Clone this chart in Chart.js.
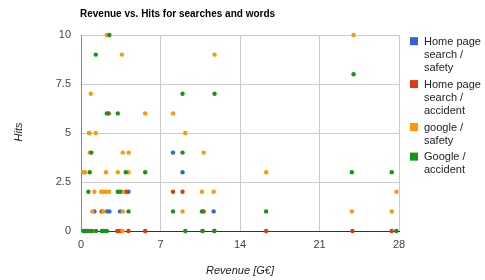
<!DOCTYPE html>
<html>
<head>
<meta charset="utf-8">
<script src="https://cdn.jsdelivr.net/npm/chart.js@4"></script>
<style>
  body { margin: 0; background: #fff; }
  #chart { display: block; }
</style>
</head>
<body>
<canvas id="chart" width="485" height="280"></canvas>
<script>
const titleText = 'Revenue vs. Hits for searches and words';
const xTitle = 'Revenue [G\u20ac]';
const yTitle = 'Hits';

const seriesLabels = ['Home page search / safety', 'Home page search / accident', 'google / safety', 'Google / accident'];
const seriesColors = ['#3366cc', '#dc3912', '#ff9900', '#109618'];

// [revenue, hits]
const homeSafety = [
  [0.73, 5], [8.1, 4], [8.94, 3], [4.18, 2], [1.18, 1], [2.3, 1], [2.5, 1], [3.44, 1], [11.68, 1]
];
const homeAccident = [
  [2.44, 6], [3.97, 2], [8.1, 2], [8.94, 2], [1.82, 1], [10.8, 1],
  [0.73, 0], [3.2, 0], [3.44, 0], [4.18, 0], [5.65, 0], [10.7, 0], [11.74, 0], [16.3, 0], [23.9, 0], [27.36, 0]
];
const googleSafety = [
  [2.27, 10], [24, 10], [3.6, 9], [11.76, 9], [0.86, 7], [5.65, 6], [8.1, 6],
  [0.73, 5], [1.3, 5], [9.18, 5], [0.77, 4], [3.68, 4], [4.2, 4], [10.8, 4],
  [0.2, 3], [0.35, 3], [2.2, 3], [3.24, 3], [4.18, 3], [16.3, 3],
  [1.18, 2], [1.77, 2], [1.97, 2], [2.2, 2], [2.47, 2], [3.68, 2], [10.65, 2], [11.68, 2], [27.77, 2],
  [1.0, 1], [1.97, 1], [3.68, 1], [8.94, 1], [23.85, 1], [27.36, 1],
  [1.09, 0], [3.65, 0]
];
const googleAccident = [
  [2.5, 10], [1.3, 9], [24, 8], [8.94, 7], [11.76, 7], [2.27, 6], [3.24, 6],
  [0.91, 4], [8.94, 4], [0.77, 3], [3.94, 3], [5.65, 3], [23.85, 3], [27.36, 3],
  [0.65, 2], [3.24, 2], [3.44, 2], [4.18, 1], [8.1, 1], [10.65, 1], [16.3, 1],
  [0.2, 0], [0.35, 0], [0.5, 0], [0.94, 0], [1.32, 0], [1.83, 0], [2.0, 0], [2.27, 0],
  [9.18, 0], [10.7, 0], [11.74, 0], [27.77, 0]
];

const xTicks = [0, 7, 14, 21, 28];
const yTicks = [0, 2.5, 5, 7.5, 10];

const seriesData = [homeSafety, homeAccident, googleSafety, googleAccident];

function wrapText(ctx, text, maxW) {
  const words = text.split(' ');
  const lines = [];
  let cur = '';
  words.forEach(w => {
    const test = cur ? cur + ' ' + w : w;
    if (cur && ctx.measureText(test).width > maxW) { lines.push(cur); cur = w; }
    else cur = test;
  });
  if (cur) lines.push(cur);
  return lines;
}

const extras = {
  id: 'extras',
  afterDraw(chart) {
    const ctx = chart.ctx;
    const area = chart.chartArea;
    ctx.save();
    // title
    ctx.fillStyle = '#000';
    ctx.font = 'bold 10px "Liberation Sans", Arial, sans-serif';
    ctx.textAlign = 'left';
    ctx.textBaseline = 'middle';
    ctx.fillText(titleText, 80, 14);

    // axis titles
    ctx.fillStyle = '#222';
    ctx.font = 'italic 11px "Liberation Sans", Arial, sans-serif';
    ctx.textAlign = 'center';
    ctx.fillText(xTitle, (area.left + area.right) / 2, 271);
    ctx.save();
    ctx.translate(19, 132);
    ctx.rotate(-Math.PI / 2);
    ctx.fillText(yTitle, 0, 0);
    ctx.restore();

    // legend
    ctx.font = '11px "Liberation Sans", Arial, sans-serif';
    ctx.textAlign = 'left';
    let y = 41.7;
    chart.data.datasets.forEach(ds => {
      const lines = wrapText(ctx, ds.label, 62);
      ctx.fillStyle = ds.backgroundColor;
      ctx.fillRect(410, y - 4.5, 8, 8);
      ctx.fillStyle = '#222';
      lines.forEach(l => { ctx.fillText(l, 424, y); y += 13.3; });
      y += 3;
    });
    ctx.restore();
  }
};

new Chart(document.getElementById('chart'), {
  type: 'scatter',
  data: {
    datasets: seriesData.map((pts, i) => ({
      label: seriesLabels[i],
      data: pts.map(p => ({ x: p[0], y: p[1] })),
      backgroundColor: seriesColors[i],
      borderWidth: 0,
      pointRadius: 2.2,
      pointHoverRadius: 2.2,
      order: 4 - i,
      clip: false
    }))
  },
  options: {
    responsive: false,
    animation: false,
    layout: { padding: { top: 35, right: 86, bottom: 0, left: 0 } },
    plugins: {
      legend: { display: false },
      title: { display: false },
      tooltip: { enabled: false }
    },
    scales: {
      x: {
        type: 'linear',
        min: xTicks[0],
        max: xTicks[xTicks.length - 1],
        afterBuildTicks: s => { s.ticks = xTicks.map(v => ({ value: v })); },
        afterFit: s => { s.height = 49; },
        ticks: { color: '#444', font: { family: '"Liberation Sans", Arial', size: 11 }, padding: 7, maxRotation: 0 },
        grid: { color: ctx => ctx.tick && ctx.tick.value === 0 ? '#888' : '#ccc', drawTicks: false },
        border: { color: '#333' }
      },
      y: {
        type: 'linear',
        min: yTicks[0],
        max: yTicks[yTicks.length - 1],
        afterBuildTicks: s => { s.ticks = yTicks.map(v => ({ value: v })); },
        afterFit: s => { s.width = 81; },
        ticks: { color: '#444', font: { family: '"Liberation Sans", Arial', size: 11 }, padding: 10 },
        grid: { color: ctx => ctx.tick && ctx.tick.value === 0 ? '#333' : '#ccc', drawTicks: false },
        border: { color: '#888' }
      }
    }
  },
  plugins: [extras]
});
</script>
</body>
</html>
